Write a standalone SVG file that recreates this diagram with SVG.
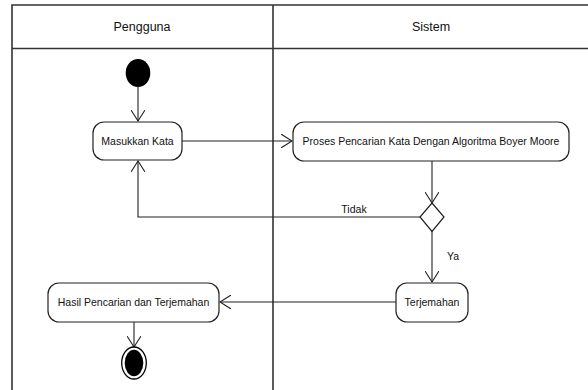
<svg xmlns="http://www.w3.org/2000/svg" width="588" height="390" viewBox="0 0 588 390">
<style>
.frame{fill:none;stroke:#333;stroke-width:1.6}
.act{fill:#fff;stroke:#222;stroke-width:1.2}
.t{font-family:"Liberation Sans",Arial,sans-serif;font-size:10.5px;fill:#111;text-anchor:middle}
.h{font-family:"Liberation Sans",Arial,sans-serif;font-size:12.5px;fill:#111;text-anchor:middle}
.c{fill:none;stroke:#222;stroke-width:1.1}
</style>
<defs>
<marker id="open" markerWidth="12" markerHeight="14" refX="11" refY="7" orient="auto" markerUnits="userSpaceOnUse">
<path d="M0,0 L11,7 L0,14" fill="none" stroke="#222" stroke-width="1.1"/>
</marker>
</defs>
<rect width="588" height="390" fill="#fff"/>
<g id="lanes">
<path class="frame" d="M12,395 V5 H600"/>
<line class="frame" x1="12" y1="48.5" x2="600" y2="48.5"/>
<line class="frame" x1="273" y1="5" x2="273" y2="395"/>
<text class="h" x="142" y="31">Pengguna</text>
<text class="h" x="431" y="31">Sistem</text>
</g>
<g id="connectors">
<line class="c" x1="138" y1="87" x2="138" y2="121" marker-end="url(#open)"/>
<line class="c" x1="182" y1="141" x2="292" y2="141" marker-end="url(#open)"/>
<line class="c" x1="432" y1="161" x2="432" y2="203" marker-end="url(#open)"/>
<polyline class="c" points="420,217 138,217 138,161" marker-end="url(#open)"/>
<text class="t" x="354" y="213">Tidak</text>
<line class="c" x1="432" y1="231" x2="432" y2="282" marker-end="url(#open)"/>
<text class="t" x="453" y="260">Ya</text>
<line class="c" x1="396" y1="302" x2="220" y2="302" marker-end="url(#open)"/>
<line class="c" x1="134" y1="322" x2="134" y2="347" marker-end="url(#open)"/>
</g>
<g id="start">
<ellipse cx="138" cy="73" rx="12.3" ry="14" fill="#000"/>
</g>
<g id="masukkan">
<rect class="act" x="93" y="122" width="89" height="38" rx="11"/>
<text class="t" x="137.5" y="145">Masukkan Kata</text>
</g>
<g id="proses">
<rect class="act" x="293" y="122" width="276" height="39" rx="11"/>
<text class="t" x="431" y="145">Proses Pencarian Kata Dengan Algoritma Boyer Moore</text>
</g>
<g id="decision">
<polygon class="act" points="432,203 444,217 432,231.5 420,217"/>
</g>
<g id="terjemahan">
<rect class="act" x="396" y="283" width="72" height="39" rx="11"/>
<text class="t" x="432" y="306">Terjemahan</text>
</g>
<g id="hasil">
<rect class="act" x="48" y="283" width="171" height="39" rx="11"/>
<text class="t" x="133.5" y="306">Hasil Pencarian dan Terjemahan</text>
</g>
<g id="end">
<ellipse cx="134" cy="363" rx="12.3" ry="16" fill="#fff" stroke="#000" stroke-width="1.3"/>
<ellipse cx="134" cy="363" rx="9.3" ry="13.2" fill="#000"/>
</g>
</svg>
